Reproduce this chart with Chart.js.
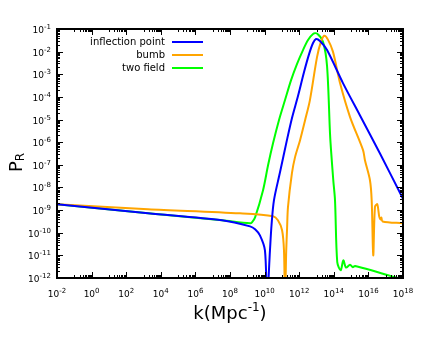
<!DOCTYPE html>
<html>
<head>
<meta charset="utf-8">
<script src="https://cdn.jsdelivr.net/npm/chart.js@4.4.1/dist/chart.umd.min.js"></script>
<style>
  html, body { margin: 0; padding: 0; background: #fff; }
</style>
</head>
<body>
<canvas id="chart" width="425" height="340"></canvas>
<script>
// values, as log10(k) and log10(P_R)
const seriesNames = ["inflection point", "bumb", "two field"];
const seriesColors = ["#0000ff", "#ffa500", "#00ff00"];

const inflectionLogK = [-2, 3.26, 7.54, 9.16, 9.45, 9.73, 10.02, 10.14, 10.31, 10.40, 10.54, 10.89, 11.29, 11.58, 11.93, 12.28, 12.57, 12.80, 12.97, 13.20, 13.61, 14.53, 15.5, 16.67, 18];
const inflectionLogP = [-8.74, -9.14, -9.45, -9.72, -9.85, -10.12, -10.78, -13, -10.78, -9.67, -8.57, -7.33, -5.91, -4.94, -3.96, -2.90, -2.11, -1.62, -1.44, -1.53, -1.93, -3.39, -4.8, -6.5, -8.5];

const bumbLogK = [-2, 3.26, 8.58, 10.49, 10.77, 11.01, 11.12, 11.18, 11.25, 11.30, 11.35, 11.58, 11.76, 12.05, 12.34, 12.62, 13.03, 13.26, 13.45, 13.66, 13.95, 14.36, 14.94, 15.69, 15.80, 16.09, 16.19, 16.28, 16.38, 16.51, 16.63, 16.70, 16.75, 16.82, 18];
const bumbLogP = [-8.74, -8.96, -9.14, -9.27, -9.45, -9.89, -10.78, -13, -10.78, -9.8, -8.88, -7.37, -6.66, -5.91, -5.03, -4.14, -2.24, -1.56, -1.30, -1.47, -2.0, -3.39, -4.89, -6.35, -6.80, -7.68, -8.57, -11.0, -8.86, -8.74, -9.30, -9.42, -9.33, -9.50, -9.58];

const twoFieldLogK = [-2, 3.26, 7.54, 9.16, 9.27, 9.45, 9.91, 10.20, 10.49, 10.83, 11.18, 11.53, 11.87, 12.22, 12.51, 12.80, 13.03, 13.38, 13.61, 13.78, 13.84, 13.97, 14.07, 14.20, 14.40, 14.55, 14.71, 14.94, 15.09, 15.23, 17.64, 18];
const twoFieldLogP = [-8.74, -9.14, -9.45, -9.58, -9.54, -9.32, -8.12, -7.02, -6.04, -5.03, -4.14, -3.26, -2.55, -1.93, -1.49, -1.22, -1.20, -1.58, -2.64, -5.60, -6.35, -7.68, -8.57, -11.30, -11.66, -11.22, -11.54, -11.41, -11.52, -11.47, -11.99, -12.1];

const xTickExps = [-2, 0, 2, 4, 6, 8, 10, 12, 14, 16, 18];
const yTickExps = [-12, -11, -10, -9, -8, -7, -6, -5, -4, -3, -2, -1];

function toPoints(logK, logP) {
  return logK.map((lk, i) => ({ x: Math.pow(10, lk), y: Math.pow(10, logP[i]) }));
}

const FONT = "'DejaVu Sans', Verdana, sans-serif";

// "10" with a raised exponent, anchored at (x, baseline)
function drawPow(ctx, exp, x, baseline, align) {
  ctx.font = '9px ' + FONT;
  const wb = ctx.measureText('10').width;
  ctx.font = '7px ' + FONT;
  const we = ctx.measureText(String(exp)).width;
  const total = wb + we;
  const x0 = align === 'center' ? x - total / 2 : x - total;
  ctx.textAlign = 'left';
  ctx.textBaseline = 'alphabetic';
  ctx.font = '9px ' + FONT;
  ctx.fillText('10', x0, baseline);
  ctx.font = '7px ' + FONT;
  ctx.fillText(String(exp), x0 + wb, baseline - 4);
}

// frame, inward ticks on all sides, tick labels, legend and axis titles
const decorPlugin = {
  id: 'decor',
  afterDraw(chart) {
    const ctx = chart.ctx;
    const a = chart.chartArea;
    const xs = chart.scales.x, ys = chart.scales.y;
    ctx.save();
    ctx.strokeStyle = '#000';
    ctx.fillStyle = '#000';

    // ticks
    ctx.lineWidth = 1;
    const tickX = (v, len) => {
      const px = Math.round(xs.getPixelForValue(v)) + 0.5;
      ctx.beginPath();
      ctx.moveTo(px, a.bottom); ctx.lineTo(px, a.bottom - len);
      ctx.moveTo(px, a.top); ctx.lineTo(px, a.top + len);
      ctx.stroke();
    };
    const tickY = (v, len) => {
      const py = Math.round(ys.getPixelForValue(v)) + 0.5;
      ctx.beginPath();
      ctx.moveTo(a.left, py); ctx.lineTo(a.left + len, py);
      ctx.moveTo(a.right, py); ctx.lineTo(a.right - len, py);
      ctx.stroke();
    };
    xTickExps.forEach(e => {
      tickX(Math.pow(10, e), 6);
      if (e > xTickExps[0]) {
        for (let m = 1; m <= 9; m++) tickX(m * Math.pow(10, e - 1), 3);
      }
      drawPow(ctx, e, xs.getPixelForValue(Math.pow(10, e)), a.bottom + 19, 'center');
    });
    yTickExps.forEach(e => {
      tickY(Math.pow(10, e), 6);
      if (e < yTickExps[yTickExps.length - 1]) {
        for (let m = 2; m <= 9; m++) tickY(m * Math.pow(10, e), 3);
      }
      drawPow(ctx, e, a.left - 6, ys.getPixelForValue(Math.pow(10, e)) + 4, 'right');
    });

    // frame
    ctx.lineWidth = 2;
    ctx.strokeRect(a.left, a.top, a.right - a.left, a.bottom - a.top);

    // legend
    ctx.font = '10px ' + FONT;
    ctx.textAlign = 'right';
    ctx.textBaseline = 'middle';
    chart.data.datasets.forEach((ds, i) => {
      const y = a.top + 13 + i * 13;
      ctx.fillStyle = '#000';
      ctx.fillText(ds.label, a.left + 108, y);
      ctx.strokeStyle = ds.borderColor;
      ctx.lineWidth = 2;
      ctx.beginPath();
      ctx.moveTo(a.left + 115, y);
      ctx.lineTo(a.left + 146, y);
      ctx.stroke();
    });

    // x title: k(Mpc^-1)
    ctx.fillStyle = '#000';
    ctx.textAlign = 'left';
    ctx.textBaseline = 'alphabetic';
    const big = '18px ' + FONT, small = '12px ' + FONT;
    ctx.font = big;
    const w1 = ctx.measureText('k(Mpc').width;
    const w3 = ctx.measureText(')').width;
    ctx.font = small;
    const w2 = ctx.measureText('-1').width;
    const x0 = (a.left + a.right) / 2 - (w1 + w2 + w3) / 2;
    const by = 319;
    ctx.font = big; ctx.fillText('k(Mpc', x0, by);
    ctx.font = small; ctx.fillText('-1', x0 + w1, by - 8);
    ctx.font = big; ctx.fillText(')', x0 + w1 + w2, by);

    // y title: P_R, rotated
    ctx.translate(22, 172);
    ctx.rotate(-Math.PI / 2);
    ctx.font = big;
    ctx.fillText('P', 0, 0);
    const pw = ctx.measureText('P').width;
    ctx.font = small;
    ctx.fillText('R', pw, 2);
    ctx.restore();
  }
};

new Chart(document.getElementById('chart'), {
  type: 'line',
  data: {
    datasets: [
      { label: seriesNames[0], data: toPoints(inflectionLogK, inflectionLogP), borderColor: seriesColors[0] },
      { label: seriesNames[1], data: toPoints(bumbLogK, bumbLogP), borderColor: seriesColors[1] },
      { label: seriesNames[2], data: toPoints(twoFieldLogK, twoFieldLogP), borderColor: seriesColors[2] }
    ]
  },
  options: {
    responsive: false,
    animation: false,
    devicePixelRatio: 1,
    parsing: false,
    elements: {
      line: { borderWidth: 2, tension: 0.3, fill: false },
      point: { radius: 0 }
    },
    layout: { padding: { top: 29, right: 22, left: 0, bottom: 0 } },
    plugins: { legend: { display: false }, tooltip: { enabled: false } },
    scales: {
      x: {
        type: 'logarithmic',
        min: 1e-2, max: 1e18,
        grid: { display: false },
        border: { display: false },
        afterBuildTicks: s => { s.ticks = xTickExps.map(e => ({ value: Math.pow(10, e) })); },
        afterFit: s => { s.height = 62; },
        ticks: { display: false }
      },
      y: {
        type: 'logarithmic',
        min: 1e-12, max: 1e-1,
        grid: { display: false },
        border: { display: false },
        afterBuildTicks: s => { s.ticks = yTickExps.map(e => ({ value: Math.pow(10, e) })); },
        afterFit: s => { s.width = 57; },
        ticks: { display: false }
      }
    }
  },
  plugins: [decorPlugin]
});
</script>
</body>
</html>
